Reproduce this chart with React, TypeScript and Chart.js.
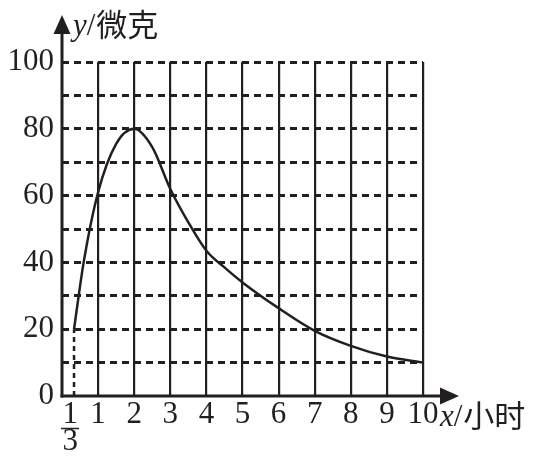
import React, { useEffect, useRef } from "react";
import { Chart, registerables } from "chart.js";

Chart.register(...registerables);

// ---- data ----
const curveX: number[] = [1 / 3, 0.6, 1, 1.5, 2, 2.5, 3, 3.5, 4, 4.5, 5, 6, 7, 8, 9, 10];
const curveY: number[] = [20, 40, 61, 75.5, 80, 74.5, 62, 52, 43.5, 38.5, 34, 26.3, 19.5, 15, 11.8, 10];
const dropX: number[] = [1 / 3, 1 / 3];
const dropY: number[] = [0, 20];
const xTickValues: number[] = [1 / 3, 1, 2, 3, 4, 5, 6, 7, 8, 9, 10];
const yTickValues: number[] = [0, 10, 20, 30, 40, 50, 60, 70, 80, 90, 100];
const yLabelValues: number[] = [0, 20, 40, 60, 80, 100];
const xTitleVar = "x";
const xTitleUnit = "小时";
const yTitleVar = "y";
const yTitleUnit = "微克";

const INK = "#231f20";
const SERIF = "'Liberation Serif', 'DejaVu Serif', serif";
const CJK = "'Noto Sans CJK SC', 'Noto Sans', sans-serif";

const isThird = (v: number) => Math.abs(v - 1 / 3) < 1e-6;

const decorPlugin = {
  id: "decor",
  afterDraw(chart: any) {
    const ctx = chart.ctx as CanvasRenderingContext2D;
    const xs = chart.scales.x;
    const ys = chart.scales.y;
    const x0 = xs.getPixelForValue(0);
    const y0 = ys.getPixelForValue(0);
    ctx.save();
    ctx.strokeStyle = INK;
    ctx.fillStyle = INK;
    ctx.lineWidth = 3;
    // y axis
    const yTip = 15;
    ctx.beginPath();
    ctx.moveTo(x0, y0 + 1.5);
    ctx.lineTo(x0, yTip + 18);
    ctx.stroke();
    ctx.beginPath();
    ctx.moveTo(x0, yTip);
    ctx.lineTo(x0 - 8.5, yTip + 19);
    ctx.lineTo(x0 + 8.5, yTip + 19);
    ctx.closePath();
    ctx.fill();
    // x axis
    const xTip = 459;
    ctx.beginPath();
    ctx.moveTo(x0 - 1.5, y0);
    ctx.lineTo(xTip - 18, y0);
    ctx.stroke();
    ctx.beginPath();
    ctx.moveTo(xTip, y0);
    ctx.lineTo(xTip - 19, y0 - 8.5);
    ctx.lineTo(xTip - 19, y0 + 8.5);
    ctx.closePath();
    ctx.fill();

    // fraction bar for 1/3
    const fx = xs.getPixelForValue(1 / 3) - 4;
    ctx.lineWidth = 1.5;
    ctx.beginPath();
    ctx.moveTo(fx - 9, y0 + 32.5);
    ctx.lineTo(fx + 9, y0 + 32.5);
    ctx.stroke();

    // titles
    ctx.textBaseline = "alphabetic";
    ctx.textAlign = "left";
    const drawTitle = (v: string, unit: string, x: number, base: number) => {
      ctx.font = `italic 31px ${SERIF}`;
      ctx.fillText(v, x, base);
      let cx = x + ctx.measureText(v).width;
      ctx.font = `31px ${SERIF}`;
      ctx.fillText("/", cx, base);
      cx += ctx.measureText("/").width + 1;
      ctx.font = `31px ${CJK}`;
      ctx.fillText(unit, cx, base + 1);
    };
    drawTitle(yTitleVar, yTitleUnit, 73, 35);
    drawTitle(xTitleVar, xTitleUnit, 440, 426);
    ctx.restore();
  },
};

export default function App() {
  const ref = useRef<HTMLCanvasElement | null>(null);
  useEffect(() => {
    if (!ref.current) return;
    const chart = new Chart(ref.current, {
      type: "line",
      data: {
        datasets: [
          {
            data: curveX.map((x, i) => ({ x, y: curveY[i] })),
            borderColor: INK,
            borderWidth: 2.5,
            pointRadius: 0,
            cubicInterpolationMode: "monotone",
            fill: false,
          },
          {
            data: dropX.map((x, i) => ({ x, y: dropY[i] })),
            borderColor: INK,
            borderWidth: 2.5,
            borderDash: [5, 4],
            pointRadius: 0,
            fill: false,
          },
        ],
      },
      plugins: [decorPlugin],
      options: {
        animation: false,
        responsive: false,
        devicePixelRatio: 1,
        layout: { padding: { left: 0, top: 62, right: 110, bottom: 0 } },
        plugins: { legend: { display: false }, tooltip: { enabled: false } },
        scales: {
          x: {
            type: "linear",
            min: 0,
            max: 10,
            afterBuildTicks: (scale: any) => {
              scale.ticks = xTickValues.map((v) => ({ value: v }));
            },
            afterFit: (scale: any) => {
              scale.height = 61;
            },
            ticks: {
              autoSkip: false,
              maxRotation: 0,
              padding: 6,
              color: INK,
              font: { family: SERIF, size: 31, lineHeight: 0.86 },
              callback: (v: any) => (isThird(Number(v)) ? ["1 ", "3 "] : String(v)),
            },
            grid: {
              drawTicks: false,
              lineWidth: 2.2,
              color: (c: any) => (c.tick && isThird(c.tick.value) ? "rgba(0,0,0,0)" : INK),
            },
            border: { display: false },
          },
          y: {
            type: "linear",
            min: 0,
            max: 100,
            afterBuildTicks: (scale: any) => {
              scale.ticks = yTickValues.map((v) => ({ value: v }));
            },
            afterFit: (scale: any) => {
              scale.width = 62;
            },
            ticks: {
              autoSkip: false,
              padding: 8,
              color: INK,
              font: { family: SERIF, size: 31 },
              callback: (v: any) => (yLabelValues.includes(Number(v)) ? String(v) : ""),
            },
            grid: {
              drawTicks: false,
              lineWidth: 3,
              color: (c: any) => (c.tick && c.tick.value === 0 ? "rgba(0,0,0,0)" : INK),
            },
            border: { display: false, dash: [7, 5] },
          },
        },
      },
    } as any);
    return () => chart.destroy();
  }, []);
  return (
    <div style={{ position: "absolute", left: 0, top: 0, width: 533, height: 457, background: "#fff" }}>
      <canvas ref={ref} width={533} height={457} />
    </div>
  );
}
